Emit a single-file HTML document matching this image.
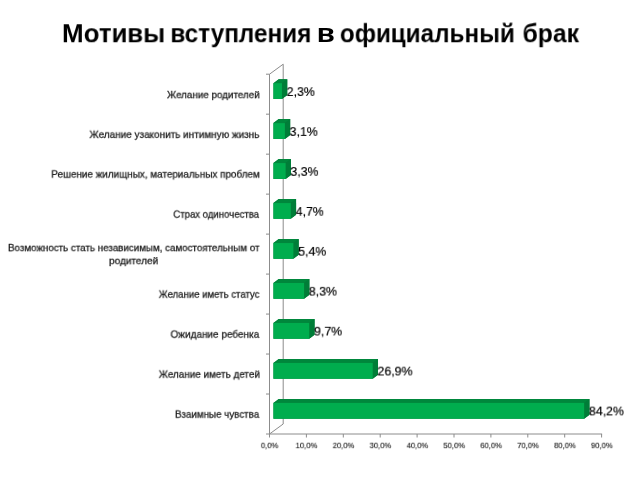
<!DOCTYPE html>
<html lang="ru"><head><meta charset="utf-8"><title>Мотивы вступления в официальный брак</title>
<style>
html,body{margin:0;padding:0;background:#fff}
body{width:640px;height:480px;position:relative;overflow:hidden;font-family:"Liberation Sans",sans-serif}
.t{position:absolute;left:0;top:0;white-space:nowrap;line-height:1.149;font-family:"Liberation Sans",sans-serif;transform-origin:0 0;will-change:transform}
.h{font-size:26px;font-weight:bold;color:#000}
.c{font-size:10.3px;color:#1a1a1a;-webkit-text-stroke:0.28px #1a1a1a}
.v{font-size:13.4px;color:#000;-webkit-text-stroke:0.2px #000}
.a{font-size:8.6px;color:#222;-webkit-text-stroke:0.15px #222}
svg{position:absolute;left:0;top:0}
</style></head><body>
<svg width="640" height="480" viewBox="0 0 640 480">
<g stroke="#8c8c8c" stroke-width="1" fill="none">
<path d="M269.5 74.2 L283.2 64.2 L283.2 424.0 L269.5 434.0"/>
</g>
<path d="M273.45 83.15 L278.75 79.15 L287.24 79.15 L287.24 94.95 L281.94 98.95 L273.45 98.95Z" fill="#007d38"/>
<path d="M273.45 83.15 L278.75 79.15 L287.24 79.15 L281.94 83.15Z" fill="#00873c"/>
<path d="M281.94 83.15 L287.24 79.15 L287.24 94.95 L281.94 98.95Z" fill="#007d38"/>
<rect x="273.45" y="83.15" width="8.49" height="15.8" fill="#00ad4e"/>
<path d="M273.45 123.12 L278.75 119.12 L290.19 119.12 L290.19 134.92 L284.89 138.92 L273.45 138.92Z" fill="#007d38"/>
<path d="M273.45 123.12 L278.75 119.12 L290.19 119.12 L284.89 123.12Z" fill="#00873c"/>
<path d="M284.89 123.12 L290.19 119.12 L290.19 134.92 L284.89 138.92Z" fill="#007d38"/>
<rect x="273.45" y="123.12" width="11.44" height="15.8" fill="#00ad4e"/>
<path d="M273.45 163.09 L278.75 159.09 L290.93 159.09 L290.93 174.89 L285.63 178.89 L273.45 178.89Z" fill="#007d38"/>
<path d="M273.45 163.09 L278.75 159.09 L290.93 159.09 L285.63 163.09Z" fill="#00873c"/>
<path d="M285.63 163.09 L290.93 159.09 L290.93 174.89 L285.63 178.89Z" fill="#007d38"/>
<rect x="273.45" y="163.09" width="12.18" height="15.8" fill="#00ad4e"/>
<path d="M273.45 203.06 L278.75 199.06 L296.09 199.06 L296.09 214.86 L290.79 218.86 L273.45 218.86Z" fill="#007d38"/>
<path d="M273.45 203.06 L278.75 199.06 L296.09 199.06 L290.79 203.06Z" fill="#00873c"/>
<path d="M290.79 203.06 L296.09 199.06 L296.09 214.86 L290.79 218.86Z" fill="#007d38"/>
<rect x="273.45" y="203.06" width="17.34" height="15.8" fill="#00ad4e"/>
<path d="M273.45 243.03 L278.75 239.03 L298.68 239.03 L298.68 254.83 L293.38 258.83 L273.45 258.83Z" fill="#007d38"/>
<path d="M273.45 243.03 L278.75 239.03 L298.68 239.03 L293.38 243.03Z" fill="#00873c"/>
<path d="M293.38 243.03 L298.68 239.03 L298.68 254.83 L293.38 258.83Z" fill="#007d38"/>
<rect x="273.45" y="243.03" width="19.93" height="15.8" fill="#00ad4e"/>
<path d="M273.45 283.00 L278.75 279.00 L309.38 279.00 L309.38 294.80 L304.08 298.80 L273.45 298.80Z" fill="#007d38"/>
<path d="M273.45 283.00 L278.75 279.00 L309.38 279.00 L304.08 283.00Z" fill="#00873c"/>
<path d="M304.08 283.00 L309.38 279.00 L309.38 294.80 L304.08 298.80Z" fill="#007d38"/>
<rect x="273.45" y="283.00" width="30.63" height="15.8" fill="#00ad4e"/>
<path d="M273.45 322.97 L278.75 318.97 L314.54 318.97 L314.54 334.77 L309.24 338.77 L273.45 338.77Z" fill="#007d38"/>
<path d="M273.45 322.97 L278.75 318.97 L314.54 318.97 L309.24 322.97Z" fill="#00873c"/>
<path d="M309.24 322.97 L314.54 318.97 L314.54 334.77 L309.24 338.77Z" fill="#007d38"/>
<rect x="273.45" y="322.97" width="35.79" height="15.8" fill="#00ad4e"/>
<path d="M273.45 362.94 L278.75 358.94 L378.01 358.94 L378.01 374.74 L372.71 378.74 L273.45 378.74Z" fill="#007d38"/>
<path d="M273.45 362.94 L278.75 358.94 L378.01 358.94 L372.71 362.94Z" fill="#00873c"/>
<path d="M372.71 362.94 L378.01 358.94 L378.01 374.74 L372.71 378.74Z" fill="#007d38"/>
<rect x="273.45" y="362.94" width="99.26" height="15.8" fill="#00ad4e"/>
<path d="M273.45 402.91 L278.75 398.91 L589.45 398.91 L589.45 414.71 L584.15 418.71 L273.45 418.71Z" fill="#007d38"/>
<path d="M273.45 402.91 L278.75 398.91 L589.45 398.91 L584.15 402.91Z" fill="#00873c"/>
<path d="M584.15 402.91 L589.45 398.91 L589.45 414.71 L584.15 418.71Z" fill="#007d38"/>
<rect x="273.45" y="402.91" width="310.70" height="15.8" fill="#00ad4e"/>
<g stroke="#8c8c8c" stroke-width="1" fill="none">
<path d="M269.5 74.2 L269.5 434.0 L602.1 434.0"/>
<path d="M266.0 74.20 L269.5 74.20"/>
<path d="M266.0 114.18 L269.5 114.18"/>
<path d="M266.0 154.16 L269.5 154.16"/>
<path d="M266.0 194.13 L269.5 194.13"/>
<path d="M266.0 234.11 L269.5 234.11"/>
<path d="M266.0 274.09 L269.5 274.09"/>
<path d="M266.0 314.07 L269.5 314.07"/>
<path d="M266.0 354.04 L269.5 354.04"/>
<path d="M266.0 394.02 L269.5 394.02"/>
<path d="M266.0 434.00 L269.5 434.00"/>
<path d="M269.50 434.0 L269.50 437.5"/>
<path d="M306.40 434.0 L306.40 437.5"/>
<path d="M343.30 434.0 L343.30 437.5"/>
<path d="M380.20 434.0 L380.20 437.5"/>
<path d="M417.10 434.0 L417.10 437.5"/>
<path d="M454.00 434.0 L454.00 437.5"/>
<path d="M490.90 434.0 L490.90 437.5"/>
<path d="M527.80 434.0 L527.80 437.5"/>
<path d="M564.70 434.0 L564.70 437.5"/>
<path d="M601.60 434.0 L601.60 437.5"/>
</g></svg>
<div class='t h' style='transform:translate(62.01px,19.20px) scale(0.9950,1)'>Мотивы</div>
<div class='t h' style='transform:translate(170.37px,19.20px) scale(0.9338,1)'>вступления</div>
<div class='t h' style='transform:translate(316.77px,19.20px) scale(1.1321,1)'>в</div>
<div class='t h' style='transform:translate(339.82px,19.20px) scale(0.9337,1)'>официальный</div>
<div class='t h' style='transform:translate(522.56px,19.20px) scale(0.9483,1)'>брак</div>
<div class='t c' style='transform:translate(167.00px,90.07px) scale(0.9560,0.9)'>Желание родителей</div>
<div class='t c' style='transform:translate(89.50px,129.77px) scale(0.9672,0.9)'>Желание узаконить интимную жизнь</div>
<div class='t c' style='transform:translate(51.28px,169.47px) scale(0.9617,0.9)'>Решение жилищных, материальных проблем</div>
<div class='t c' style='transform:translate(173.28px,209.57px) scale(0.9319,0.9)'>Страх одиночества</div>
<div class='t c' style='transform:translate(8.04px,243.07px) scale(0.9489,0.9)'>Возможность стать независимым, самостоятельным от</div>
<div class='t c' style='transform:translate(109.01px,256.07px) scale(0.9746,0.9)'>родителей</div>
<div class='t c' style='transform:translate(158.75px,289.57px) scale(0.9327,0.9)'>Желание иметь статус</div>
<div class='t c' style='transform:translate(170.51px,329.57px) scale(0.9699,0.9)'>Ожидание ребенка</div>
<div class='t c' style='transform:translate(158.75px,369.57px) scale(0.9617,0.9)'>Желание иметь детей</div>
<div class='t c' style='transform:translate(175.04px,409.57px) scale(0.9489,0.9)'>Взаимные чувства</div>
<div class='t v' style='transform:translate(286.67px,84.26px) scale(0.9244,0.97)'>2,3%</div>
<div class='t v' style='transform:translate(289.63px,124.19px) scale(0.9244,0.97)'>3,1%</div>
<div class='t v' style='transform:translate(290.36px,164.12px) scale(0.9244,0.97)'>3,3%</div>
<div class='t v' style='transform:translate(295.76px,204.05px) scale(0.9167,0.97)'>4,7%</div>
<div class='t v' style='transform:translate(298.11px,243.98px) scale(0.9244,0.97)'>5,4%</div>
<div class='t v' style='transform:translate(308.81px,283.91px) scale(0.9244,0.97)'>8,3%</div>
<div class='t v' style='transform:translate(313.98px,323.84px) scale(0.9244,0.97)'>9,7%</div>
<div class='t v' style='transform:translate(377.45px,363.77px) scale(0.9243,0.97)'>26,9%</div>
<div class='t v' style='transform:translate(588.89px,403.70px) scale(0.9243,0.97)'>84,2%</div>
<div class='t a' style='transform:translate(260.88px,441.76px) scale(0.8842,0.92)'>0,0%</div>
<div class='t a' style='transform:translate(295.55px,441.76px) scale(0.8968,0.92)'>10,0%</div>
<div class='t a' style='transform:translate(332.68px,441.76px) scale(0.8875,0.92)'>20,0%</div>
<div class='t a' style='transform:translate(369.58px,441.76px) scale(0.8875,0.92)'>30,0%</div>
<div class='t a' style='transform:translate(406.70px,441.76px) scale(0.8784,0.92)'>40,0%</div>
<div class='t a' style='transform:translate(443.38px,441.76px) scale(0.8875,0.92)'>50,0%</div>
<div class='t a' style='transform:translate(480.28px,441.76px) scale(0.8875,0.92)'>60,0%</div>
<div class='t a' style='transform:translate(517.18px,441.76px) scale(0.8875,0.92)'>70,0%</div>
<div class='t a' style='transform:translate(554.08px,441.76px) scale(0.8875,0.92)'>80,0%</div>
<div class='t a' style='transform:translate(590.98px,441.76px) scale(0.8875,0.92)'>90,0%</div>
</body></html>
